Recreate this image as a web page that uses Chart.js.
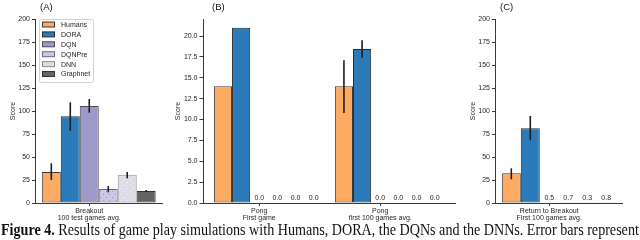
<!DOCTYPE html>
<html><head><meta charset="utf-8">
<script src="https://cdn.jsdelivr.net/npm/chart.js@4/dist/chart.umd.min.js"></script>
<style>
html,body{margin:0;padding:0;background:#fff;width:640px;height:240px;overflow:hidden;position:relative}
canvas{position:absolute;top:0}
#caption{position:absolute;left:1px;top:221px;font-family:'Liberation Serif','Times New Roman',serif;font-size:17px;line-height:17px;white-space:nowrap;color:#111;transform-origin:0 0}
</style></head><body>
<canvas id="cA" width="170" height="240" style="left:0"></canvas>
<canvas id="cB" width="295" height="240" style="left:170px"></canvas>
<canvas id="cC" width="175" height="240" style="left:465px"></canvas>
<div id="caption"><b>Figure 4.</b> Results of game play simulations with Humans, DORA, the DQNs and the DNNs. Error bars represent</div>
<script>
// ---------- data ----------
const series = ['Humans', 'DORA', 'DQN', 'DQNPre', 'DNN', 'Graphnet'];

const breakoutCategories = [['Breakout', '100 test games avg.']];
const breakoutScores  = [33.7, 94.2, 105.4, 15.2, 30.8, 13.0];
const breakoutErrLow  = [25.0, 78.6, 98.2, 11.6, 26.8, 12.0];
const breakoutErrHigh = [43.1, 109.5, 113.0, 18.5, 33.7, 14.0];

const pongCategories = [['Pong', 'First game'], ['Pong', 'first 100 games avg.']];
const pongFirstGame   = [14.0, 21.0, 0.0, 0.0, 0.0, 0.0];
const pongFirstErrLow = [null, null, null, null, null, null];
const pongFirstErrHigh= [null, null, null, null, null, null];
const pong100Games    = [14.0, 18.45, 0.0, 0.0, 0.0, 0.0];
const pong100ErrLow   = [10.8, 17.4, null, null, null, null];
const pong100ErrHigh  = [17.1, 19.5, null, null, null, null];

const returnCategories = [['Return to Breakout', 'First 100 games avg.']];
const returnScores  = [32.3, 81.2, 0.5, 0.7, 0.3, 0.8];
const returnErrLow  = [25.8, 68.2, null, null, null, null];
const returnErrHigh = [37.7, 94.6, null, null, null, null];

const scoreTicks = [0, 25, 50, 75, 100, 125, 150, 175, 200];
const pongTicks  = [0, 2.5, 5, 7.5, 10, 12.5, 15, 17.5, 20];

// ---------- style ----------
const FONT = "'Liberation Sans', Arial, sans-serif";
const TXT = '#262626';
const AXIS = '#3a3a3a';
const fills = ['#fdaa63', '#2b7bba', '#9f99c9', '#cac8e6', '#dedde6', '#636363'];
const edges = ['#3a3a3a', '#2a2a2a', '#4a4a4a', '#6a6880', '#8c8c8c', '#333333'];

function dots(bg, dot) {
  const c = document.createElement('canvas'); c.width = 6; c.height = 6;
  const g = c.getContext('2d');
  g.fillStyle = bg; g.fillRect(0, 0, 6, 6);
  g.fillStyle = dot; g.fillRect(1, 2, 1, 1); g.fillRect(4, 5, 1, 1);
  return g.createPattern(c, 'repeat');
}
const barFills = fills.slice();
barFills[3] = dots(fills[3], '#9d98c4');
barFills[4] = dots(fills[4], '#f2f2f6');
barFills[5] = dots(fills[5], '#555555');

// ---------- plugins ----------
const extrasPlugin = {
  id: 'extras',
  afterDatasetsDraw(chart) {
    const o = chart.options.plugins.extras;
    const ctx = chart.ctx, ys = chart.scales.y, ca = chart.chartArea;
    ctx.save();
    // error bars
    ctx.strokeStyle = '#1e1e1e'; ctx.lineWidth = 1.6; ctx.lineCap = 'butt';
    chart.data.datasets.forEach((ds, i) => {
      const meta = chart.getDatasetMeta(i);
      meta.data.forEach((bar, j) => {
        const lo = o.errLow[j][i], hi = o.errHigh[j][i];
        if (lo == null || hi == null) return;
        ctx.beginPath();
        ctx.moveTo(bar.x, ys.getPixelForValue(lo));
        ctx.lineTo(bar.x, ys.getPixelForValue(hi));
        ctx.stroke();
      });
    });
    // value labels for near-zero bars
    ctx.fillStyle = TXT; ctx.font = '7px ' + FONT;
    ctx.textAlign = 'center'; ctx.textBaseline = 'bottom';
    chart.data.datasets.forEach((ds, i) => {
      const meta = chart.getDatasetMeta(i);
      meta.data.forEach((bar, j) => {
        const v = ds.data[j];
        if (v < 1) ctx.fillText(v.toFixed(1), bar.x, bar.y - 1);
      });
    });
    // x tick marks under the third bar of each group
    ctx.strokeStyle = AXIS; ctx.lineWidth = 1;
    chart.getDatasetMeta(2).data.forEach(bar => {
      const x = Math.round(bar.x) + 0.5;
      ctx.beginPath(); ctx.moveTo(x, ca.bottom); ctx.lineTo(x, ca.bottom + 3); ctx.stroke();
    });
    // panel title
    ctx.font = '9.5px ' + FONT; ctx.textAlign = 'left'; ctx.textBaseline = 'middle';
    ctx.fillStyle = '#111';
    ctx.fillText(o.title, ca.left + o.titleDx, 7);
    // legend
    if (o.legend) {
      const lx = ca.left + 3.5, ly = ca.top, w = 54, h = 63;
      ctx.fillStyle = 'rgba(255,255,255,0.85)';
      ctx.strokeStyle = '#d0d0d0'; ctx.lineWidth = 1;
      ctx.beginPath();
      if (ctx.roundRect) ctx.roundRect(lx + 0.5, ly + 0.5, w, h, 2); else ctx.rect(lx + 0.5, ly + 0.5, w, h);
      ctx.fill(); ctx.stroke();
      ctx.font = '7px ' + FONT; ctx.textBaseline = 'middle';
      series.forEach((name, i) => {
        const cy = ly + 5.5 + i * 9.9;
        ctx.fillStyle = fills[i]; ctx.strokeStyle = edges[i];
        ctx.fillRect(lx + 3, cy - 2.5, 13, 5);
        ctx.strokeRect(lx + 3.5, cy - 2.5, 12, 5);
        ctx.fillStyle = TXT;
        ctx.fillText(name, lx + 22, cy + 0.5);
      });
    }
    ctx.restore();
  }
};

function makeChart(id, p) {
  const datasets = series.map((name, i) => ({
    label: name,
    data: p.values.map(v => v[i]),
    backgroundColor: barFills[i],
    borderColor: edges[i],
    borderWidth: 1,
    borderSkipped: false,
    barPercentage: 1.0,
    categoryPercentage: p.catPct
  }));
  return new Chart(document.getElementById(id), {
    type: 'bar',
    data: { labels: p.categories, datasets },
    plugins: [extrasPlugin],
    options: {
      responsive: false, animation: false, devicePixelRatio: 1,
      layout: { padding: { left: 0, top: 19, right: p.padRight, bottom: 17 } },
      plugins: {
        legend: { display: false }, tooltip: { enabled: false },
        extras: { errLow: p.errLow, errHigh: p.errHigh, title: p.title, titleDx: p.titleDx, legend: !!p.legend }
      },
      scales: {
        x: {
          offset: true,
          afterBuildTicks: p.xRange ? (s => { s._startValue = p.xRange[0]; s._valueRange = p.xRange[1]; }) : undefined,
          grid: { drawOnChartArea: false, offset: false, tickLength: 3, tickColor: 'rgba(0,0,0,0)' },
          border: { color: AXIS, width: 1 },
          ticks: { font: { family: FONT, size: 7, lineHeight: 1.1 }, color: TXT, padding: 1,
                   labelOffset: p.labelOffset, maxRotation: 0, autoSkip: false },
          afterFit: s => { s.height = 20; }
        },
        y: {
          min: 0, max: p.yMax,
          afterBuildTicks: s => { s.ticks = p.yTicks.map(v => ({ value: v })); },
          ticks: { font: { family: FONT, size: 7 }, color: TXT, padding: 2, callback: p.tickFmt },
          grid: { drawOnChartArea: false, tickLength: 3.5, tickColor: AXIS, tickWidth: 1 },
          border: { color: AXIS, width: 1 },
          title: { display: true, text: 'Score', font: { family: FONT, size: 7 }, color: TXT,
                   padding: { top: p.titlePad, bottom: 0 } },
          afterFit: s => { s.width = p.yWidth; }
        }
      }
    }
  });
}

makeChart('cA', {
  categories: breakoutCategories, values: [breakoutScores],
  errLow: [breakoutErrLow], errHigh: [breakoutErrHigh],
  yMax: 200, yTicks: scoreTicks, tickFmt: v => String(v),
  catPct: 0.9, labelOffset: -9.5, yWidth: 35.5, padRight: 8, titlePad: 8.8,
  title: '(A)', titleDx: 4.5, legend: true
});
makeChart('cB', {
  categories: pongCategories, values: [pongFirstGame, pong100Games],
  errLow: [pongFirstErrLow, pong100ErrLow], errHigh: [pongFirstErrHigh, pong100ErrHigh],
  yMax: 22.05, yTicks: pongTicks, tickFmt: v => Number(v).toFixed(1),
  catPct: 0.9, labelOffset: -9.1, yWidth: 33, padRight: 10, titlePad: 3.8,
  xRange: [-0.54, 2.083],
  title: '(B)', titleDx: 9
});
makeChart('cC', {
  categories: returnCategories, values: [returnScores],
  errLow: [returnErrLow], errHigh: [returnErrHigh],
  yMax: 200, yTicks: scoreTicks, tickFmt: v => String(v),
  catPct: 0.9, labelOffset: -9.5, yWidth: 30.5, padRight: 18, titlePad: 3.8,
  title: '(C)', titleDx: 4.5
});

// fit caption width
const cap = document.getElementById('caption');
const w = cap.scrollWidth;
cap.style.transform = 'scaleX(' + (638 / w) + ')';
</script>
</body></html>
